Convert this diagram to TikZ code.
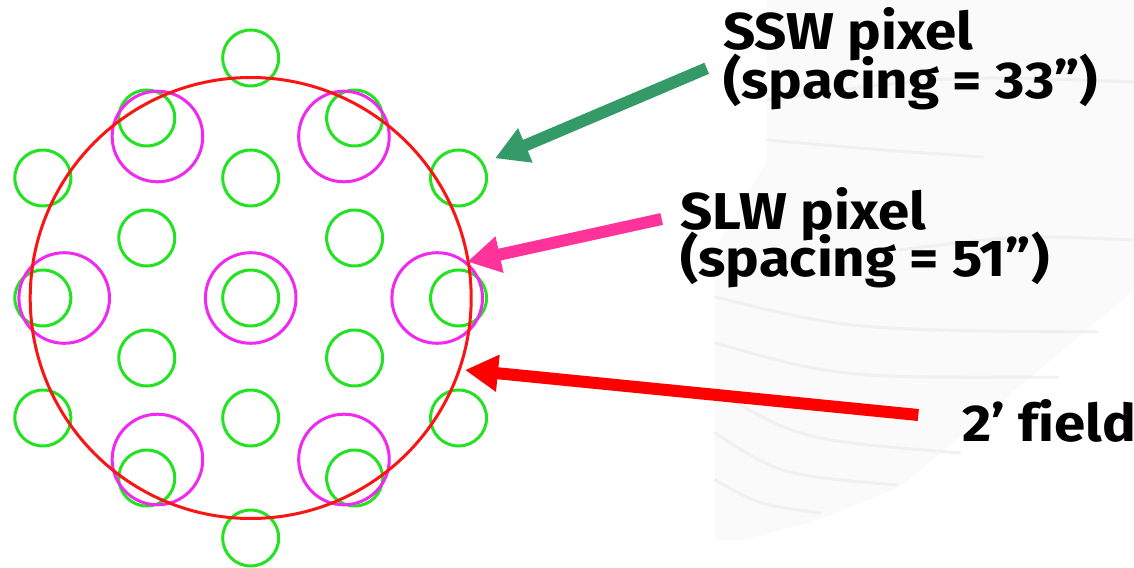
\documentclass[tikz,border=0pt]{standalone}
\usepackage{fontspec}
\setmainfont{Fira Sans}[Ligatures=NoCommon, FakeStretch=1.09]
\usetikzlibrary{arrows.meta}

\definecolor{pixgreen}{RGB}{34,226,34}
\definecolor{pixmagenta}{RGB}{240,40,240}
\definecolor{fieldred}{RGB}{250,20,20}
\definecolor{sswarrow}{RGB}{52,155,104}
\definecolor{slwarrow}{RGB}{255,51,153}
\definecolor{fieldarrow}{RGB}{255,0,0}
\definecolor{bgshade}{RGB}{250,250,250}
\definecolor{bgstreak}{RGB}{240,240,240}

\tikzset{
  sswpix/.style={draw=pixgreen, line width=3bp},
  slwpix/.style={draw=pixmagenta, line width=3bp},
  fov/.style={draw=fieldred, line width=3bp},
  bigarrow/.style={line width=12bp, -{Triangle[length=33bp,width=35bp]}},
  label/.style={inner sep=0pt, anchor=base west, font=\fontsize{52}{58}\selectfont\bfseries},
  streak/.style={draw=bgstreak, line width=3bp, line cap=round}
}

\begin{document}
\begin{tikzpicture}[x=1bp, y=-1bp]
\useasboundingbox (0,0) rectangle (1134,568);

% faint background swirl
\fill[bgshade] (767,0) -- (1134,0) -- (1134,290) -- (900,487) -- (817,520)
  -- (745,540) -- (715,540) -- (715,250) -- (767,160) -- cycle;
\draw[streak] (715,297) .. controls (850,330) .. (1097,332);
\draw[streak] (715,343) .. controls (840,378) .. (1058,377);
\draw[streak] (715,390) .. controls (800,440) .. (960,453);
\draw[streak] (715,433) .. controls (780,475) .. (897,485);
\draw[streak] (715,480) .. controls (760,505) .. (820,513);
\draw[streak] (767,100) .. controls (950,75) .. (1133,82);
\draw[streak] (767,140) .. controls (880,150) .. (983,157);
\draw[streak] (900,250) .. controls (1020,235) .. (1133,240);

% SSW pixels: hexagonal pattern, 33" spacing
\begin{scope}[shift={(250.7,298)}]
  \foreach \dx/\dy in {0/0, 0/-120, 0/120, 103.92/-60, 103.92/60, -103.92/-60, -103.92/60,
      0/-240, 0/240, 103.92/-180, 103.92/180, -103.92/-180, -103.92/180,
      207.85/-120, 207.85/0, 207.85/120, -207.85/-120, -207.85/0, -207.85/120}
    \draw[sswpix] (\dx,\dy) circle[radius=28];
  % SLW pixels: 51" spacing
  \foreach \dx/\dy in {0/0, 186.5/0, -186.5/0, 93.25/-161.5, 93.25/161.5, -93.25/-161.5, -93.25/161.5}
    \draw[slwpix] (\dx,\dy) circle[radius=45.3];
  % 2' field of view
  \draw[fov] (0,0) circle[radius=220.5];
\end{scope}

% labels
\node[label] (ssw1) at (723,50) {SSW pixel};
\node[label] (ssw2) at (723,98.3) {(spacing = 33”)};
\node[label] (slw1) at (680,230) {SLW pixel};
\node[label] (slw2) at (680,276.7) {(spacing = 51”)};
\node[label] (fld) at (962,441.7) {2’ field};

% arrows
\coordinate (sswtail) at (706.7,68.3);
\coordinate (sswtip) at (495,158.3);
\coordinate (slwtail) at (661.7,219);
\coordinate (slwtip) at (467.3,261.7);
\coordinate (fldtail) at (918.3,415);
\coordinate (fldtip) at (465,370);
\draw[bigarrow, sswarrow] (sswtail) -- (sswtip);
\draw[bigarrow, slwarrow] (slwtail) -- (slwtip);
\draw[bigarrow, fieldarrow] (fldtail) -- (fldtip);
\end{tikzpicture}
\end{document}
